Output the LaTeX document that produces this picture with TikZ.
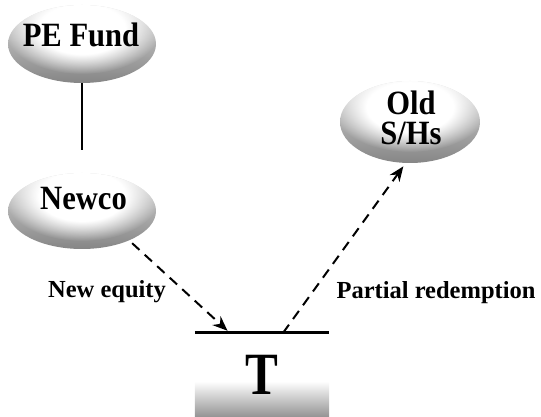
\documentclass[tikz,border=0pt]{standalone}
\usepackage{fontspec}
\setmainfont{Liberation Serif}
\newfontfamily\condf{Liberation Serif}[FakeStretch=0.9]
\newfontfamily\tfont{Liberation Serif}[FakeStretch=0.82]
\usetikzlibrary{fadings,arrows.meta,calc,shapes.geometric,backgrounds}
\pgfdeclareradialshading{myfadeshade}{\pgfpointorigin}{color(0pt)=(pgftransparent!0); color(14pt)=(pgftransparent!0); color(25pt)=(pgftransparent!100); color(50pt)=(pgftransparent!100)}
\pgfdeclarefading{softblob}{\pgfuseshading{myfadeshade}}
\tikzset{
  blob/.style={ellipse, inner sep=0pt,
    path picture={
      \shade[top color=gray!30, bottom color=gray!95]
        (path picture bounding box.south west) rectangle (path picture bounding box.north east);
      \fill[white, path fading=softblob]
        ([yshift=15pt]path picture bounding box.center) ellipse (78pt and 45pt);}},
  bigtxt/.style={font=\condf\bfseries\fontsize{34}{30}\selectfont, inner sep=0pt},
  lbltxt/.style={font=\bfseries\fontsize{24.5}{28}\selectfont, inner sep=0pt, anchor=base},
  tbox/.style={rectangle, inner sep=0pt, minimum width=134pt, minimum height=84pt,
    font=\tfont\bfseries\fontsize{60}{60}\selectfont},
  band/.style={top color=white, bottom color=gray!85},
  flow/.style={dash pattern=on 10pt off 7pt, line width=2pt, -{Stealth[length=15pt,width=12pt]}},
  tie/.style={line width=1.8pt},
}
\begin{document}
\begin{tikzpicture}[x=1pt,y=1pt]
\useasboundingbox (0,0) rectangle (541,417);
% ellipses
\node[blob, minimum width=148pt, minimum height=78pt] (pe) at (82,373) {};
\node[blob, minimum width=148pt, minimum height=76pt] (newco) at (82,206) {};
\node[blob, minimum width=140pt, minimum height=82pt] (old) at (410,295) {};
% texts
\node[bigtxt, anchor=base] (pet) at (81,370) {PE Fund};
\node[bigtxt, anchor=base] (newcot) at (83.5,207) {Newco};
\node[bigtxt, align=center] (oldt) at (411,299) {Old\\S/Hs};
% target box
\node[tbox] (t) at (262,42) {T};
\begin{scope}[on background layer]
  \shade[band] (t.south west) rectangle ([yshift=36pt]t.south east);
\end{scope}
\draw[line width=2.6pt] (t.north west) -- (t.north east);
\coordinate (tin) at ($(t.north west)!0.26!(t.north east)$);
\coordinate (tout) at ($(t.north west)!0.657!(t.north east)$);
% connectors
\draw[tie, shorten >=23pt] (pe.south) -- (newco.north);
\draw[flow, shorten <=4pt, shorten >=3pt] (newco.-32) -- (tin);
\draw[flow, shorten >=4pt] (tout) -- (old.-96);
% labels
\node[lbltxt] (neq) at (107,119) {New equity};
\node[lbltxt] (pr) at (436,118) {Partial redemption};
\end{tikzpicture}
\end{document}
